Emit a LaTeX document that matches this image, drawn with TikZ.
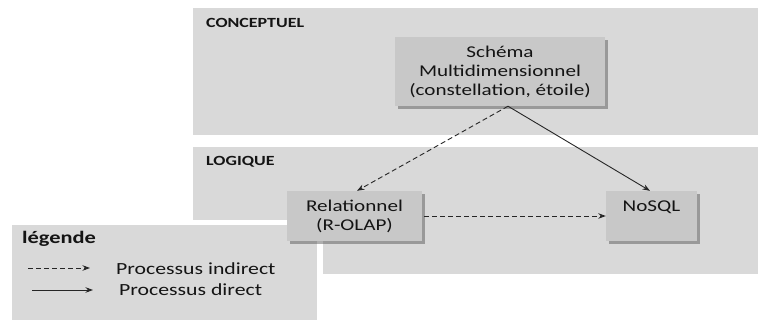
\documentclass[tikz,border=0pt]{standalone}
\usepackage{fontspec}
\setmainfont{Carlito}[FakeStretch=1.28]
\usetikzlibrary{arrows.meta,shadows}
\definecolor{panelgrey}{HTML}{D9D9D9}
\definecolor{boxgrey}{HTML}{C8C8C8}
\definecolor{inkdark}{HTML}{141414}
\tikzset{
  panel/.style={fill=panelgrey, draw=none},
  conceptbox/.style={rectangle, fill=boxgrey, draw=none, inner sep=0pt,
    drop shadow={shadow xshift=2.5pt, shadow yshift=-2.5pt, opacity=0.45, fill=black!70}},
  boxtext/.style={font=\fontsize{16.5}{19}\selectfont, text=inkdark, align=center, inner sep=0pt},
  layertitle/.style={font=\fontsize{14}{16}\selectfont\bfseries, text=inkdark, anchor=west, inner sep=0pt},
  legendtext/.style={font=\fontsize{17}{19}\selectfont, text=inkdark, anchor=west, inner sep=0pt},
  flow/.style={draw=black!85, line width=0.9pt, -{Stealth[length=7.5pt,width=5.5pt]}},
  indirect/.style={flow, dash pattern=on 5pt off 3pt},
  direct/.style={flow},
}
\begin{document}
\begin{tikzpicture}[x=1pt,y=-1pt]
\useasboundingbox (0,0) rectangle (758,324);

% layer panels
\fill[panel] (193,8) rectangle (758,135);
\fill[panel] (193,147) rectangle (758,274);
\node[layertitle] (conceptuel) at (206,23) {CONCEPTUEL};
\node[layertitle] (logique) at (206,162) {LOGIQUE};

% legend, set apart from the logical layer by a white margin
\fill[white] (0,220) rectangle (323,324);
\fill[panel] (12,225) rectangle (317,320);
\node[legendtext, font=\fontsize{17.5}{19}\selectfont\bfseries] (legende) at (22,239) {légende};
\coordinate (ia) at (28,268);
\coordinate (ib) at (90,268);
\coordinate (da) at (32,290);
\coordinate (db) at (93,290);
\draw[indirect] (ia) -- (ib);
\draw[direct] (da) -- (db);
\node[legendtext] (lindirect) at (116,269) {Processus indirect};
\node[legendtext] (ldirect) at (119,290) {Processus direct};

% model boxes
\node[conceptbox, minimum width=210pt, minimum height=69pt] (schema) at (500,71.5) {};
\node[boxtext] (schematext) at (schema.center) {Schéma\\Multidimensionnel\\(constellation, étoile)};

\node[conceptbox, minimum width=135pt, minimum height=50pt] (rel) at (354.5,216) {};
\node[boxtext] (reltext) at (rel.center) {Relationnel\\(R-OLAP)};

\node[conceptbox, minimum width=91pt, minimum height=50pt] (nosql) at (651.5,216) {};
\node[boxtext] (nosqltext) at (651.5,207) {NoSQL};

% transformations between models
\draw[indirect] ([xshift=8pt]schema.south) -- ([xshift=2.5pt]rel.north);
\draw[direct] ([xshift=8pt]schema.south) -- ([xshift=-1.5pt]nosql.north);
\draw[indirect] ([xshift=2pt]rel.east) -- (nosql.west);
\end{tikzpicture}
\end{document}
